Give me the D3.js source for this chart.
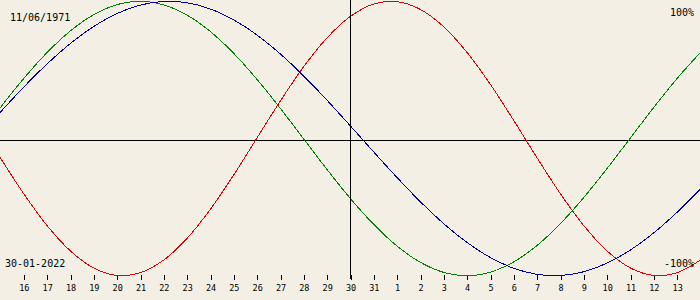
<!DOCTYPE html>
<html>
<head>
<meta charset="utf-8">
<script src="https://cdn.jsdelivr.net/npm/d3@7"></script>
<style>
    body { margin: 0; background: #f3efe4; }
    svg { display: block; }
    text { font-family: "DejaVu Sans Mono", monospace; fill: #000; }
</style>
</head>
<body>
<div id="chart"></div>
<script>
// Biorhythm around 30-01-2022, born 11/06/1971 (values in %)
let birthLabel = "11/06/1971";
let dateLabel = "30-01-2022";
let dayOffsets = d3.range(-15, 16);
let dayLabels = [15, 16, 17, 18, 19, 20, 21, 22, 23, 24, 25, 26, 27, 28, 29, 30,
    31, 1, 2, 3, 4, 5, 6, 7, 8, 9, 10, 11, 12, 13, 14];

let physical = [-13.62, -39.84, -63.11, -81.70, -94.23, -99.77, -97.91, -88.79, -73.08, -51.96, -26.98,
    0, 26.98, 51.96, 73.08, 88.79, 97.91, 99.77, 94.23, 81.70, 63.11, 39.84, 13.62,
    -13.62, -39.84, -63.11, -81.70, -94.23, -99.77, -97.91, -88.79];
let emotional = [22.25, 43.39, 62.35, 78.18, 90.10, 97.49, 100, 97.49, 90.10, 78.18, 62.35, 43.39, 22.25,
    0, -22.25, -43.39, -62.35, -78.18, -90.10, -97.49, -100, -97.49, -90.10, -78.18, -62.35, -43.39, -22.25,
    0, 22.25, 43.39, 62.35];
let intellectual = [18.93, 37.17, 54.06, 69.01, 81.46, 90.96, 97.18, 99.89, 98.98, 94.50, 86.60, 75.57,
    61.82, 45.82, 28.17, 9.51, -9.51, -28.17, -45.82, -61.82, -75.57, -86.60, -94.50, -98.98, -99.89,
    -97.18, -90.96, -81.46, -69.01, -54.06, -37.17];

let series = [
    { name: "physical", values: physical, color: "#e00000" },
    { name: "emotional", values: emotional, color: "#008000" },
    { name: "intellectual", values: intellectual, color: "#0000a0" }
];

let width = 700, height = 300;
let plotHeight = 280;

let svg = d3.select("#chart")
    .append("svg")
    .attr("width", width)
    .attr("height", height);

svg.append("rect")
    .attr("width", width)
    .attr("height", height)
    .attr("fill", "#f3efe4");

/* Scales */
let xScale = d3.scaleLinear()
    .domain([-15, 15])
    .range([0, width]);

let yScale = d3.scaleLinear()
    .domain([-100, 100])
    .range([275.7, 1.3]);

/* Frame lines */
svg.append("line")
    .attr("x1", 0).attr("x2", width)
    .attr("y1", plotHeight / 2 + 0.5).attr("y2", plotHeight / 2 + 0.5)
    .attr("stroke", "#000")
    .attr("shape-rendering", "crispEdges");

/* Day axis */
let xAxis = d3.axisBottom(xScale)
    .tickValues(dayOffsets.slice(1, -1))
    .tickSize(5)
    .tickFormat(d => dayLabels[d + 15]);

let axis = svg.append("g")
    .attr("transform", `translate(0.5, ${plotHeight - 5})`)
    .call(xAxis);
axis.select(".domain").remove();
axis.selectAll(".tick line")
    .attr("stroke", "#000")
    .attr("shape-rendering", "crispEdges");
axis.selectAll(".tick text")
    .attr("y", 10)
    .attr("dy", "0.71em")
    .attr("font-size", "8.5px")
    .attr("font-family", "DejaVu Sans Mono, monospace")
    .attr("fill", "#000");

/* Curves */
let line = d3.line()
    .x((d, i) => xScale(dayOffsets[i]))
    .y(d => yScale(d))
    .curve(d3.curveCatmullRom);

svg.selectAll(".curve")
    .data(series)
    .enter()
    .append("path")
    .attr("class", "curve")
    .attr("d", d => line(d.values))
    .attr("fill", "none")
    .attr("stroke", d => d.color)
    .attr("stroke-width", 1)
    .attr("shape-rendering", "crispEdges");

/* Today marker */
svg.append("line")
    .attr("x1", xScale(0) + 0.5).attr("x2", xScale(0) + 0.5)
    .attr("y1", 0).attr("y2", plotHeight - 1)
    .attr("stroke", "#000")
    .attr("shape-rendering", "crispEdges");

/* Labels */
svg.append("text")
    .attr("x", 10).attr("y", 21)
    .attr("font-size", "10px")
    .text(birthLabel);

svg.append("text")
    .attr("x", 694).attr("y", 16)
    .attr("text-anchor", "end")
    .attr("font-size", "10px")
    .text("100%");

svg.append("text")
    .attr("x", 5).attr("y", 266.5)
    .attr("font-size", "10px")
    .text(dateLabel);

svg.append("text")
    .attr("x", 694).attr("y", 266.5)
    .attr("text-anchor", "end")
    .attr("font-size", "10px")
    .text("-100%");
</script>
</body>
</html>
